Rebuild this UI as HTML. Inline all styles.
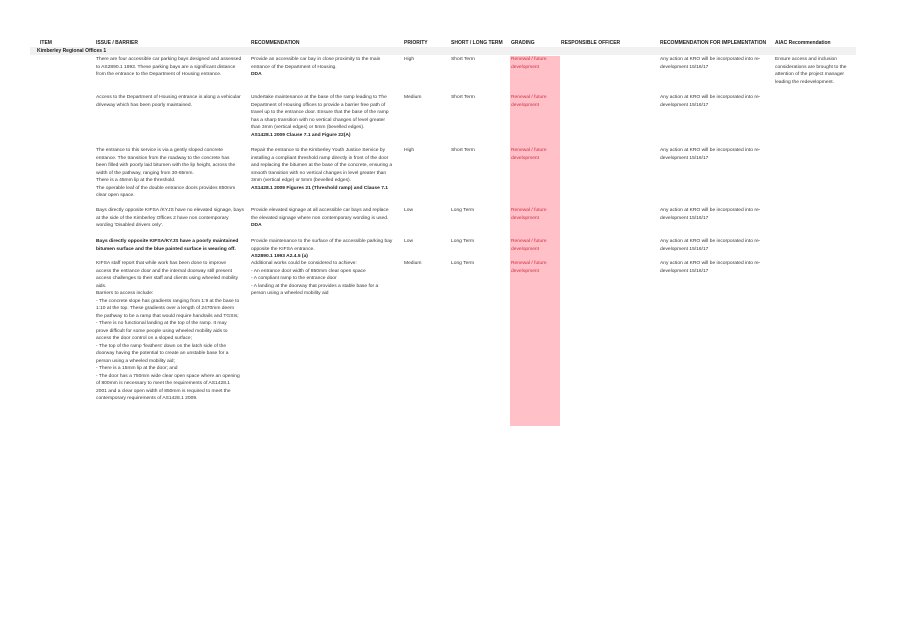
<!DOCTYPE html>
<html><head><meta charset="utf-8"><style>
body{margin:0;width:897px;height:634px;background:#fff;position:relative;font-family:"Liberation Sans",sans-serif;color:#333;overflow:hidden}
.a{position:absolute;font-size:4.9px;line-height:7.5px;white-space:nowrap}
.h{font-weight:bold;color:#222;font-size:5px}
b{color:#222}
#band{position:absolute;left:30px;top:47px;width:826px;height:8px;background:#f1f1f1}
#pink{position:absolute;left:510px;top:56px;width:50px;height:370px;background:#ffc0c8}
.g{color:#d03040}
</style></head><body>
<div id="band"></div>
<div id="pink"></div>
<div class="a h" style="left:40px;top:40px">ITEM</div>
<div class="a h" style="left:96px;top:40px">ISSUE / BARRIER</div>
<div class="a h" style="left:251px;top:40px">RECOMMENDATION</div>
<div class="a h" style="left:404px;top:40px">PRIORITY</div>
<div class="a h" style="left:451px;top:40px">SHORT / LONG TERM</div>
<div class="a h" style="left:511px;top:40px">GRADING</div>
<div class="a h" style="left:561px;top:40px">RESPONSIBLE OFFICER</div>
<div class="a h" style="left:660px;top:40px">RECOMMENDATION FOR IMPLEMENTATION</div>
<div class="a h" style="left:775px;top:40px">AIAC Recommendation</div>
<div class="a h" style="left:37px;top:47.5px">Kimberley Regional Offices 1</div>

<!-- row 1 -->
<div class="a" style="left:96px;top:56px">There are four accessible car parking bays designed and assessed<br>to AS2890.1 1993. These parking bays are a significant distance<br>from the entrance to the Department of Housing entrance.</div>
<div class="a" style="left:251px;top:56px">Provide an accessible car bay in close proximity to the main<br>entrance of the Department of Housing.<br><b>DDA</b></div>
<div class="a" style="left:404px;top:56px">High</div>
<div class="a" style="left:451px;top:56px">Short Term</div>
<div class="a g" style="left:511px;top:56px">Renewal / future<br>development</div>
<div class="a" style="left:660px;top:56px">Any action at KRO will be incorporated into re-<br>development 15/16/17</div>
<div class="a" style="left:775px;top:56px">Ensure access and inclusion<br>considerations are brought to the<br>attention of the project manager<br>leading the redevelopment.</div>

<!-- row 2 -->
<div class="a" style="left:96px;top:94px">Access to the Department of Housing entrance is along a vehicular<br>driveway which has been poorly maintained.</div>
<div class="a" style="left:251px;top:94px">Undertake maintenance at the base of the ramp leading to The<br>Department of Housing offices to provide a barrier free path of<br>travel up to the entrance door. Ensure that the base of the ramp<br>has a sharp transition with no vertical changes of level greater<br>than 3mm (vertical edges) or 5mm (bevelled edges).<br><b>AS1428.1 2009 Clause 7.1 and Figure 22(A)</b></div>
<div class="a" style="left:404px;top:94px">Medium</div>
<div class="a" style="left:451px;top:94px">Short Term</div>
<div class="a g" style="left:511px;top:94px">Renewal / future<br>development</div>
<div class="a" style="left:660px;top:94px">Any action at KRO will be incorporated into re-<br>development 15/16/17</div>

<!-- row 3 -->
<div class="a" style="left:96px;top:147px">The entrance to this service is via a gently sloped concrete<br>entrance. The transition from the roadway to the concrete has<br>been filled with poorly laid bitumen with the lip height, across the<br>width of the pathway, ranging from 30-65mm.<br>There is a 45mm lip at the threshold.<br>The operable leaf of the double entrance doors provides 850mm<br>clear open space.</div>
<div class="a" style="left:251px;top:147px">Repair the entrance to the Kimberley Youth Justice Service by<br>installing a compliant threshold ramp directly in front of the door<br>and replacing the bitumen at the base of the concrete, ensuring a<br>smooth transition with no vertical changes in level greater than<br>3mm (vertical edge) or 5mm (bevelled edges).<br><b>AS1428.1 2009 Figures 21 (Threshold ramp) and Clause 7.1</b></div>
<div class="a" style="left:404px;top:147px">High</div>
<div class="a" style="left:451px;top:147px">Short Term</div>
<div class="a g" style="left:511px;top:147px">Renewal / future<br>development</div>
<div class="a" style="left:660px;top:147px">Any action at KRO will be incorporated into re-<br>development 15/16/17</div>

<!-- row 4 -->
<div class="a" style="left:96px;top:207px">Bays directly opposite KIFSA /KYJS have no elevated signage, bays<br>at the side of the Kimberley Offices 2 have non contemporary<br>wording 'Disabled drivers only'.</div>
<div class="a" style="left:251px;top:207px">Provide elevated signage at all accessible car bays and replace<br>the elevated signage where non contemporary wording is used.<br><b>DDA</b></div>
<div class="a" style="left:404px;top:207px">Low</div>
<div class="a" style="left:451px;top:207px">Long Term</div>
<div class="a g" style="left:511px;top:207px">Renewal / future<br>development</div>
<div class="a" style="left:660px;top:207px">Any action at KRO will be incorporated into re-<br>development 15/16/17</div>

<!-- row 5 -->
<div class="a" style="left:96px;top:238px"><b>Bays directly opposite KIFSA/KYJS have a poorly maintained<br>bitumen surface and the blue painted surface is wearing off.</b></div>
<div class="a" style="left:251px;top:238px">Provide maintenance to the surface of the accessible parking bay<br>opposite the KIFSA entrance.<br><b>AS2890.1 1993 A2.4.5 (a)</b></div>
<div class="a" style="left:404px;top:238px">Low</div>
<div class="a" style="left:451px;top:238px">Long Term</div>
<div class="a g" style="left:511px;top:238px">Renewal / future<br>development</div>
<div class="a" style="left:660px;top:238px">Any action at KRO will be incorporated into re-<br>development 15/16/17</div>

<!-- row 6 -->
<div class="a" style="left:96px;top:260px">KIFSA staff report that while work has been done to improve<br>access the entrance door and the internal doorway still present<br>access challenges to their staff and clients using wheeled mobility<br>aids.<br>Barriers to access include:<br>- The concrete slope has gradients ranging from 1:9 at the base to<br>1:10 at the top. These gradients over a length of 2470mm deem<br>the pathway to be a ramp that would require handrails and TGSIs;<br>- There is no functional landing at the top of the ramp. It may<br>prove difficult for some people using wheeled mobility aids to<br>access the door control on a sloped surface;<br>- The top of the ramp 'feathers' down on the latch side of the<br>doorway having the potential to create an unstable base for a<br>person using a wheeled mobility aid;<br>- There is a 15mm lip at the door; and<br>- The door has a 750mm wide clear open space where an opening<br>of 800mm is necessary to meet the requirements of AS1428.1<br>2001 and a clear open width of 850mm is required to meet the<br>contemporary requirements of AS1428.1 2009.</div>
<div class="a" style="left:251px;top:260px">Additional works could be considered to achieve:<br>- An entrance door width of 850mm clear open space<br>- A compliant ramp to the entrance door<br>- A landing at the doorway that provides a stable base for a<br>person using a wheeled mobility aid</div>
<div class="a" style="left:404px;top:260px">Medium</div>
<div class="a" style="left:451px;top:260px">Long Term</div>
<div class="a g" style="left:511px;top:260px">Renewal / future<br>development</div>
<div class="a" style="left:660px;top:260px">Any action at KRO will be incorporated into re-<br>development 15/16/17</div>
</body></html>
